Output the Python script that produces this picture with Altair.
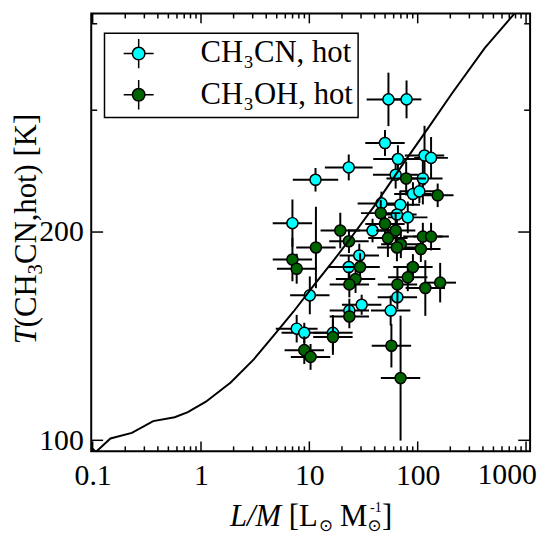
import altair as alt
import pandas as pd

# ---------------- data ----------------
CN_LABEL = "CH\u2083CN, hot"
OH_LABEL = "CH\u2083OH, hot"

# CH3CN, hot (cyan)
cn_x = [53.7, 78.9, 49.9, 23.1, 11.4, 65.7, 115.6, 132.9, 62.6, 111.6,
        90.4, 103.6, 46.3, 69.1, 64.3, 81.0, 38.3, 6.98, 28.9, 23.1,
        10.1, 30.4, 23.4, 56.3, 64.9, 7.64, 8.98, 16.5]
cn_y = [311, 311, 269, 248, 238, 255, 258, 256, 242, 239,
        227, 229, 220, 219, 212, 210, 201, 206, 185, 178,
        162, 157, 154, 154, 161, 145, 143, 143]
# multiplicative uncertainties (value / f ... value * f)
cn_fx = [1.59, 1.37, 1.52, 1.66, 1.62, 1.69, 1.52, 1.43, 1.62, 1.52,
         1.49, 1.52, 1.66, 1.52, 1.52, 1.52, 1.66, 1.52, 1.52, 1.52,
         1.52, 1.52, 1.52, 1.52, 1.52, 1.56, 1.62, 1.52]
cn_fy = [1.093, 1.065, 1.044, 1.044, 1.040, 1.047, 1.104, 1.072, 1.047, 1.090,
         1.040, 1.040, 1.040, 1.047, 1.044, 1.054, 1.040, 1.082, 1.040, 1.040,
         1.065, 1.034, 1.040, 1.051, 1.040, 1.047, 1.034, 1.061]

# CH3OH, hot (dark green)
oh_x = [78.3, 152.9, 45.6, 49.9, 62.6, 19.3, 23.2, 53.1, 69.9, 64.3,
        111.6, 132.9, 106.9, 11.5, 29.4, 26.7, 23.4, 90.4, 81.0, 65.0,
        117.6, 161.2, 6.98, 7.64, 23.4, 16.5, 8.98, 10.26, 57.2, 69.5]
oh_y = [239, 226, 213, 205.5, 201, 201, 194, 196, 192, 190,
        197, 197, 189, 190, 178, 171, 168, 178, 172, 168,
        166, 169, 182.5, 177, 151, 141, 135, 132, 137, 123]
oh_fx = [1.52, 1.40, 1.52, 1.52, 1.52, 1.52, 1.52, 1.52, 1.52, 1.52,
         1.52, 1.46, 1.52, 1.52, 1.52, 1.52, 1.52, 1.52, 1.52, 1.52,
         1.52, 1.40, 1.52, 1.52, 1.52, 1.52, 1.52, 1.52, 1.52, 1.52]
oh_fy = [1.058, 1.040, 1.044, 1.047, 1.061, 1.061, 1.040, 1.065, 1.047, 1.047,
         1.047, 1.047, 1.044, 1.145, 1.047, 1.047, 1.044, 1.044, 1.047, 1.061,
         1.097, 1.068, 1.075, 1.051, 1.040, 1.061, 1.047, 1.044, 1.075, 1.231]

# model curve
model_x = [0.097, 0.107, 0.146, 0.230, 0.362, 0.572, 0.756, 1.11, 1.88, 3.07,
           4.68, 7.13, 10.85, 16.54, 24.3, 41.1, 72.0, 126.1, 206.2, 415.2, 796.6]
model_y = [97.7, 96.2, 100.6, 102.5, 106.6, 108.0, 109.8, 113.7, 121.2, 130.9,
           141.7, 153.4, 167.1, 181.5, 196.4, 219.7, 249.9, 283.3, 316.9, 368.9, 415.3]

# axis ticks
x_major = [0.1, 1, 10, 100, 1000]
x_minor = [0.2, 0.3, 0.4, 0.5, 0.6, 0.7, 0.8, 0.9,
           2, 3, 4, 5, 6, 7, 8, 9,
           20, 30, 40, 50, 60, 70, 80, 90,
           200, 300, 400, 500, 600, 700, 800, 900]
y_major = [100, 200]
y_minor = [300, 400]
x_labelled = [0.1, 1, 10, 100, 1000]
y_labelled = [100, 200]

# ---------------- build ----------------
W, H = 443, 442
SERIF = "Liberation Serif, Times New Roman, Times, DejaVu Serif, serif"
SYMF = "DejaVu Sans, DejaVu Serif, sans-serif"

def table(xv, yv, fx, fy, label):
    return pd.DataFrame({
        "x": xv, "y": yv,
        "xlo": [a / f for a, f in zip(xv, fx)], "xhi": [a * f for a, f in zip(xv, fx)],
        "ylo": [a / f for a, f in zip(yv, fy)], "yhi": [a * f for a, f in zip(yv, fy)],
        "series": [label] * len(xv),
    })

df_cn = table(cn_x, cn_y, cn_fx, cn_fy, CN_LABEL)
df_oh = table(oh_x, oh_y, oh_fx, oh_fy, OH_LABEL)
df_model = pd.DataFrame({"x": model_x, "y": model_y})

xs = alt.Scale(type="log", domain=[0.097, 1090], nice=False, zero=False)
ys = alt.Scale(type="log", domain=[96.4, 414], nice=False, zero=False)

xax = alt.Axis(title=None, values=x_labelled, format=".1~f",
               labelExpr="datum.value > 500 ? '' : datum.label",
               ticks=False, tickSize=0, domain=False, grid=False,
               labelFont=SERIF, labelFontSize=30, labelColor="black",
               labelPadding=9, labelOverlap=False, labelFlush=False)
yax = alt.Axis(title=None, values=y_labelled, format="d",
               ticks=False, tickSize=0, domain=False, grid=False,
               labelFont=SERIF, labelFontSize=30, labelColor="black",
               labelPadding=8, labelOverlap=False)

SYMBOL = ("M-2.4,0L-1,0M1,0L2.4,0M0,-2.35L0,-1M0,1L0,2.35"
          "M-1,0A1,1,0,1,0,1,0A1,1,0,1,0,-1,0Z")

legend = alt.Legend(title=None, orient="none", legendX=13.4, legendY=20,
                    padding=5, strokeColor="black", fillColor="white",
                    symbolType=SYMBOL, symbolSize=159, symbolStrokeColor="black",
                    symbolStrokeWidth=1.5, symbolOpacity=1, symbolOffset=14,
                    labelFont=SERIF, labelFontSize=31, labelColor="black",
                    labelOffset=47, labelLimit=400, rowPadding=4.6)

color = alt.Color("series:N",
                  scale=alt.Scale(domain=[CN_LABEL, OH_LABEL], range=["#00ffff", "#006400"]),
                  legend=legend)


def series_layers(d):
    hbar = alt.Chart(d).mark_rule(color="black", strokeWidth=2).encode(
        x=alt.X("xlo:Q", scale=xs, axis=xax), x2="xhi:Q",
        y=alt.Y("y:Q", scale=ys, axis=yax))
    vbar = alt.Chart(d).mark_rule(color="black", strokeWidth=2).encode(
        x=alt.X("x:Q", scale=xs, axis=xax),
        y=alt.Y("ylo:Q", scale=ys, axis=yax), y2="yhi:Q")
    pts = alt.Chart(d).mark_circle(size=125, opacity=1, stroke="black", strokeWidth=1.5).encode(
        x=alt.X("x:Q", scale=xs, axis=xax),
        y=alt.Y("y:Q", scale=ys, axis=yax),
        color=color)
    return [hbar, vbar, pts]


model = alt.Chart(df_model).mark_line(color="black", strokeWidth=2, clip=True).encode(
    x=alt.X("x:Q", scale=xs, axis=xax), y=alt.Y("y:Q", scale=ys, axis=yax))


def xticks(vals, length):
    d = pd.DataFrame({"v": vals})
    bot = alt.Chart(d).mark_rule(color="black", strokeWidth=1.5).encode(
        x=alt.X("v:Q", scale=xs, axis=xax), y=alt.value(H), y2=alt.value(H - length))
    top = alt.Chart(d).mark_rule(color="black", strokeWidth=1.5).encode(
        x=alt.X("v:Q", scale=xs, axis=xax), y=alt.value(0), y2=alt.value(length))
    return [bot, top]


def yticks(vals, length):
    d = pd.DataFrame({"v": vals})
    left = alt.Chart(d).mark_rule(color="black", strokeWidth=1.5).encode(
        y=alt.Y("v:Q", scale=ys, axis=yax), x=alt.value(0), x2=alt.value(length))
    right = alt.Chart(d).mark_rule(color="black", strokeWidth=1.5).encode(
        y=alt.Y("v:Q", scale=ys, axis=yax), x=alt.value(W), x2=alt.value(W - length))
    return [left, right]


label_1000 = alt.Chart(pd.DataFrame({"v": [1000], "t": ["1000"]})).mark_text(
    font=SERIF, fontSize=30, color="black", align="center", baseline="top", dx=-19).encode(
    x=alt.X("v:Q", scale=xs, axis=xax), y=alt.value(H + 9), text="t:N")


def piece(text, x, y, size=31, style="normal", font=SERIF, angle=0):
    return alt.Chart(pd.DataFrame({"t": [text]})).mark_text(
        font=font, fontSize=size, fontStyle=style, color="black",
        align="left", baseline="alphabetic", angle=angle).encode(
        x=alt.value(x), y=alt.value(y), text="t:N")

# x title: L/M [L_sun M_sun^-1]
XB = 517
x_title = [
    piece("L/M", 140, XB, style="italic"),
    piece("[L", 199.5, XB),
    piece("\u2299", 230.0, XB + 5, size=17, font=SYMF),
    piece("M", 251.0, XB),
    piece("\u2299", 279.0, XB + 5, size=17, font=SYMF),
    piece("-1", 281.5, XB - 14, size=14),
    piece("]", 293.5, XB),
]

# y title: T(CH3CN,hot) [K]  (rotated, reading upward)
YX = -56
y_title = [
    piece("T", YX, 334, style="italic", angle=270),
    piece("(CH", YX, 316.8, angle=270),
    piece("3", YX + 6, 263.4, size=21, angle=270),
    piece("CN,hot)", YX, 252.9, angle=270),
    piece("[K]", YX, 144.4, angle=270),
]

layers = []
layers += series_layers(df_cn)
layers += series_layers(df_oh)
layers.append(model)
layers += xticks(x_major, 10) + xticks(x_minor, 5)
layers += yticks(y_major, 12) + yticks(y_minor, 6)
layers.append(label_1000)
layers += x_title + y_title

chart = alt.layer(*layers).properties(
    width=W, height=H,
    autosize=alt.AutoSizeParams(type="none"),
    padding={"left": 84, "top": 3, "right": 10, "bottom": 85},
    background="white",
).configure_view(stroke="black", strokeWidth=2).configure_legend(strokeWidth=1.5)

chart.save("out.html", embed_options={"renderer": "svg", "actions": False})
